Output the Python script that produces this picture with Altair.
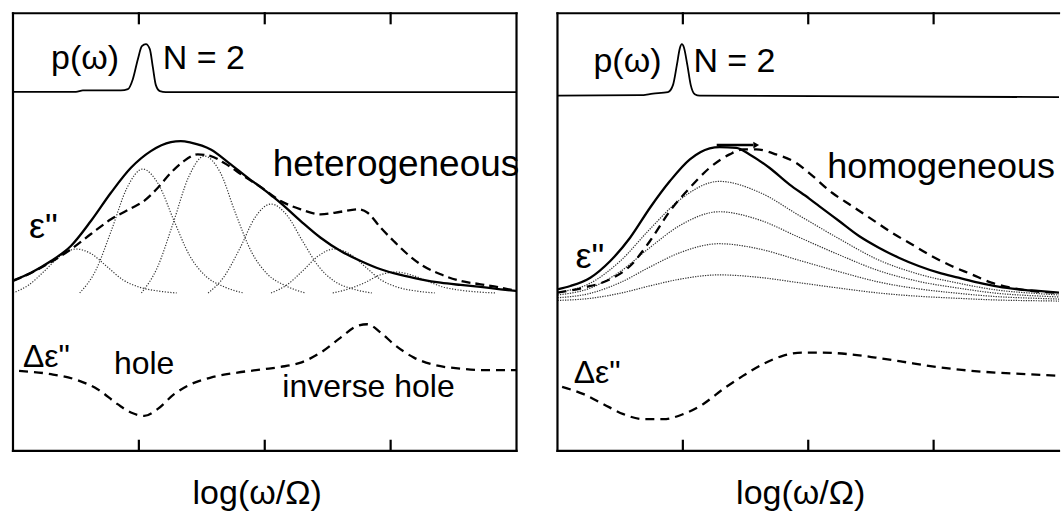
import altair as alt
import pandas as pd

FONT = "Liberation Sans"

# Axis frame: x = log(omega/Omega) in decades across the frame, y = arbitrary units (0 bottom, 438 top)
X_DOMAIN = [0, 4]
Y_DOMAIN = [0, 438]
TICK_X = [1, 2, 3]

# ---------------- left panel (heterogeneous) ----------------
L_P_X = [0, 0.5, 0.556, 0.857, 0.913, 0.952, 0.992, 1.024, 1.056, 1.087, 1.111, 1.135, 1.167, 1.214, 4]
L_P_Y = [359.3, 359.3, 360.7, 360.7, 362, 372, 392, 405, 407, 402, 384, 366, 360, 359, 359]

L_S_X = [0, 0.143, 0.302, 0.46, 0.619, 0.778, 0.937, 1.095, 1.254, 1.333, 1.413, 1.571, 1.73, 1.889,
         1.968, 2.048, 2.127, 2.286, 2.444, 2.603, 2.762, 2.921, 3.079, 3.238, 3.397, 3.556, 3.714, 3.873, 4.0]
L_S_Y = [170.5, 178.3, 190, 205, 230, 258.3, 283.3, 300, 309, 310, 308.5, 301.7, 286.7, 271,
         264, 256, 248, 230, 213.3, 200, 190, 181.7, 176, 171.7, 168.3, 166, 164, 161.7, 160]

L_D_X = [0, 0.143, 0.302, 0.46, 0.619, 0.778, 0.937, 1.04, 1.151, 1.254, 1.357, 1.468, 1.571, 1.675,
         1.833, 1.968, 2.127, 2.286, 2.444, 2.603, 2.738, 2.817, 2.921, 3.024, 3.135, 3.238, 3.397,
         3.556, 3.714, 3.873, 4.0]
L_D_Y = [170, 178, 189, 201.7, 217, 231.7, 242.7, 250, 263.3, 278.3, 290, 296.7, 295, 288.3,
         275, 264, 250, 241.7, 236.7, 239.3, 241.7, 238.3, 223.3, 210, 196.7, 186.7, 176.7,
         170, 166.7, 163.3, 160]

L_C1_X = [0, 0.125, 0.25, 0.375, 0.5, 0.625, 0.75, 0.875, 1.0, 1.15, 1.3]
L_C1_Y = [158, 166, 180, 195, 202, 197, 184, 171, 164, 160, 158]
L_C2_X = [0.53, 0.655, 0.78, 0.905, 1.03, 1.155, 1.28, 1.405, 1.53, 1.68, 1.83]
L_C2_Y = [158, 180, 220, 263, 282, 267, 230, 195, 175, 164, 158]
L_C3_X = [1.02, 1.145, 1.27, 1.395, 1.52, 1.645, 1.77, 1.895, 2.02, 2.17, 2.32]
L_C3_Y = [158, 183, 227, 274, 295, 279, 237, 199, 177, 165, 158]
L_C4_X = [1.55, 1.675, 1.8, 1.925, 2.05, 2.175, 2.3, 2.425, 2.55, 2.7, 2.85]
L_C4_Y = [158, 174, 202, 234, 247, 236, 210, 185, 170, 162, 158]
L_C5_X = [2.05, 2.175, 2.3, 2.425, 2.55, 2.675, 2.8, 2.925, 3.05, 3.2, 3.35]
L_C5_Y = [158, 166, 180, 195, 202, 197, 184, 171, 164, 160, 158]
L_C6_X = [2.54, 2.665, 2.79, 2.915, 3.04, 3.165, 3.29, 3.415, 3.54, 3.69, 3.84]
L_C6_Y = [158, 162, 168, 176, 179, 176, 170, 164, 161, 159, 158]

L_DE_X = [0.048, 0.302, 0.513, 0.672, 0.831, 0.937, 1.042, 1.148, 1.28, 1.413, 1.571, 1.783, 1.994,
          2.127, 2.286, 2.444, 2.603, 2.736, 2.815, 2.921, 3.026, 3.185, 3.344, 3.556, 3.767, 4.0]
L_DE_Y = [80, 76.7, 70.7, 61.7, 46.7, 38.3, 35, 41.7, 56.7, 66.7, 73.3, 78.3, 81.7,
          84, 88.3, 98.3, 113.3, 125, 126.7, 118.3, 106.7, 93.3, 86, 82.3, 80.7, 80.7]

# ---------------- right panel (homogeneous) ----------------
R_P_X = [0, 0.659, 0.762, 0.881, 0.921, 0.952, 0.976, 0.992, 1.008, 1.036, 1.063, 1.095, 1.135, 4]
R_P_Y = [355.5, 356, 357.5, 359, 366, 386, 403, 407, 404, 386, 366, 357, 355.5, 354]

R_S_X = [0, 0.103, 0.262, 0.421, 0.579, 0.738, 0.897, 1.056, 1.214, 1.294, 1.426, 1.532, 1.69, 1.849,
         2.008, 2.087, 2.246, 2.405, 2.563, 2.722, 2.881, 3.04, 3.198, 3.357, 3.516, 3.675, 3.833, 4.0]
R_S_Y = [161.7, 165, 173.3, 190, 213.3, 243.3, 270, 291.7, 302.7, 304, 303.3, 296.7, 283.3, 266.7,
         252.5, 245, 230, 215, 203.3, 193.3, 185, 178.3, 173.3, 168.3, 164.3, 161.7, 160, 158.3]

R_D_X = [0, 0.209, 0.421, 0.579, 0.738, 0.897, 1.056, 1.214, 1.373, 1.479, 1.585, 1.744, 1.902, 2.008,
         2.19, 2.349, 2.508, 2.667, 2.825, 2.984, 3.143, 3.302, 3.46, 3.619, 3.778, 4.0]
R_D_Y = [158.3, 163.3, 171.7, 185, 210, 240, 263.3, 283.3, 296.7, 301.7, 301.7, 296.7, 288.3, 278,
         258.3, 245, 231.7, 218.3, 206.7, 195, 185, 176.7, 168.3, 163.3, 160, 158.3]

R_C_X = [0, 0.26, 0.5, 0.74, 0.98, 1.29, 1.61, 1.93, 2.25, 2.56, 2.88, 3.2, 3.52, 3.83, 4.0]
R_C1_Y = [158.7, 167.7, 189.9, 222.3, 251.7, 269.7, 258.8, 235.4, 212, 191.1, 176.9, 167.7, 160.7, 157.4, 156]
R_C2_Y = [156, 162.8, 179.4, 203.8, 225.8, 239.3, 231.1, 213.5, 196, 180.4, 169.6, 162.8, 157.5, 155, 154]
R_C3_Y = [153.2, 157.6, 168.4, 184.2, 198.5, 207.3, 202, 190.6, 179.2, 169, 162.1, 157.6, 154.2, 152.6, 151.9]
R_C4_Y = [150.5, 152.6, 157.7, 165.2, 171.9, 176.1, 173.6, 168.2, 162.8, 158, 154.7, 152.6, 150.9, 150.2, 149.9]

R_DE_X = [0.037, 0.209, 0.367, 0.526, 0.685, 0.844, 1.002, 1.161, 1.32, 1.479, 1.637, 1.796, 1.955,
          2.113, 2.325, 2.537, 2.748, 2.96, 3.225, 3.49, 3.754, 4.0]
R_DE_Y = [64, 56.7, 46.7, 36.7, 31.7, 31.7, 36.7, 46.7, 61.7, 75, 86.7, 95, 98.3,
          98.3, 96.7, 93.3, 89.3, 85, 81, 78.3, 76.7, 75]

ARROW_X = [1.27, 1.56]
ARROW_HEAD_X = [1.585]
ARROW_Y = [306]

# labels
L_LABELS = ["p(ω)", "N = 2", "heterogeneous", "ε\"", "Δε\"", "hole", "inverse hole"]
L_LABEL_X = [0.302, 1.19, 2.063, 0.127, 0.079, 0.802, 2.14]
L_LABEL_Y = [382, 382, 275, 213, 84, 77, 54]
L_LABEL_FS = [34, 34, 37, 36, 32, 32, 32]

R_LABELS = ["p(ω)", "N = 2", "homogeneous", "ε\"", "Δε\""]
R_LABEL_X = [0.287, 1.084, 2.151, 0.143, 0.13]
R_LABEL_Y = [379, 379, 273, 183, 68]
R_LABEL_FS = [34, 34, 36, 36, 32]

AXIS_TITLE = "log(ω/Ω)"
AXIS_TITLE_X = 1.94
AXIS_TITLE_Y = -53.5

X = alt.X("x:Q", scale=alt.Scale(domain=X_DOMAIN, nice=False, zero=False), axis=None)
Y = alt.Y("y:Q", scale=alt.Scale(domain=Y_DOMAIN, nice=False, zero=False), axis=None)


def series(*pairs):
    frames = []
    for i, (xs, ys) in enumerate(pairs):
        frames.append(pd.DataFrame({"x": xs, "y": ys, "k": i}))
    return pd.concat(frames, ignore_index=True)


def lines(df, width, dash=None, color="black", clip=True):
    kw = dict(color=color, strokeWidth=width, interpolate="monotone", clip=clip)
    if dash:
        kw["strokeDash"] = dash
    return alt.Chart(df).mark_line(**kw).encode(x=X, y=Y, detail="k:N")


def frame(right_edge):
    rows = [
        dict(x=0, x2=4, y=0, y2=0),
        dict(x=0, x2=4, y=438, y2=438),
        dict(x=0, x2=0, y=0, y2=438),
    ]
    if right_edge:
        rows.append(dict(x=4, x2=4, y=0, y2=438))
    for t in TICK_X:
        rows.append(dict(x=t, x2=t, y=0, y2=10))
        rows.append(dict(x=t, x2=t, y=438, y2=428))
    return alt.Chart(pd.DataFrame(rows)).mark_rule(
        color="black", strokeWidth=2.2, strokeCap="square"
    ).encode(x=X, x2="x2:Q", y=Y, y2="y2:Q")


def labels(texts, xs, ys, fs):
    df = pd.DataFrame({"t": texts, "x": xs, "y": ys, "fs": fs})
    return alt.Chart(df).mark_text(
        align="left", baseline="alphabetic", font=FONT, color="black"
    ).encode(x=X, y=Y, text="t:N", size=alt.Size("fs:Q", scale=None, legend=None))


def axis_title():
    df = pd.DataFrame({"t": [AXIS_TITLE], "x": [AXIS_TITLE_X], "y": [AXIS_TITLE_Y]})
    return alt.Chart(df).mark_text(
        align="center", baseline="alphabetic", font=FONT, fontSize=34, color="black"
    ).encode(x=X, y=Y, text="t:N")


left = alt.layer(
    lines(series((L_C1_X, L_C1_Y), (L_C2_X, L_C2_Y), (L_C3_X, L_C3_Y),
                 (L_C4_X, L_C4_Y), (L_C5_X, L_C5_Y), (L_C6_X, L_C6_Y)),
          1.2, dash=[1.2, 1.6], color="#333333"),
    lines(series((L_S_X, L_S_Y)), 2.3),
    lines(series((L_D_X, L_D_Y)), 2.3, dash=[9, 5]),
    lines(series((L_DE_X, L_DE_Y)), 2.3, dash=[9, 6]),
    lines(series((L_P_X, L_P_Y)), 1.8),
    frame(True),
    labels(L_LABELS, L_LABEL_X, L_LABEL_Y, L_LABEL_FS),
    axis_title(),
).properties(width=504, height=438)

arrow_df = pd.DataFrame({"x": [ARROW_X[0]], "x2": [ARROW_X[1]], "y": ARROW_Y})
head_df = pd.DataFrame({"x": ARROW_HEAD_X, "y": ARROW_Y})

right = alt.layer(
    lines(series((R_C_X, R_C1_Y), (R_C_X, R_C2_Y), (R_C_X, R_C3_Y), (R_C_X, R_C4_Y)),
          1.2, dash=[1.3, 1.2], color="#333333"),
    lines(series((R_S_X, R_S_Y)), 2.3),
    lines(series((R_D_X, R_D_Y)), 2.3, dash=[9, 6]),
    lines(series((R_DE_X, R_DE_Y)), 2.3, dash=[9, 6]),
    lines(series((R_P_X, R_P_Y)), 1.8),
    alt.Chart(arrow_df).mark_rule(color="black", strokeWidth=2.5).encode(x=X, x2="x2:Q", y=Y),
    alt.Chart(head_df).mark_point(shape="triangle-right", filled=True, color="black",
                                  size=45, opacity=1).encode(x=X, y=Y),
    frame(False),
    labels(R_LABELS, R_LABEL_X, R_LABEL_Y, R_LABEL_FS),
    axis_title(),
).properties(width=502, height=438)

chart = alt.hconcat(left, right, spacing=41, bounds="flush").properties(
    padding={"left": 11, "top": 11, "right": 0, "bottom": 0}
).configure_view(strokeWidth=0)

chart.save("out.html", embed_options={"renderer": "svg", "actions": False})
